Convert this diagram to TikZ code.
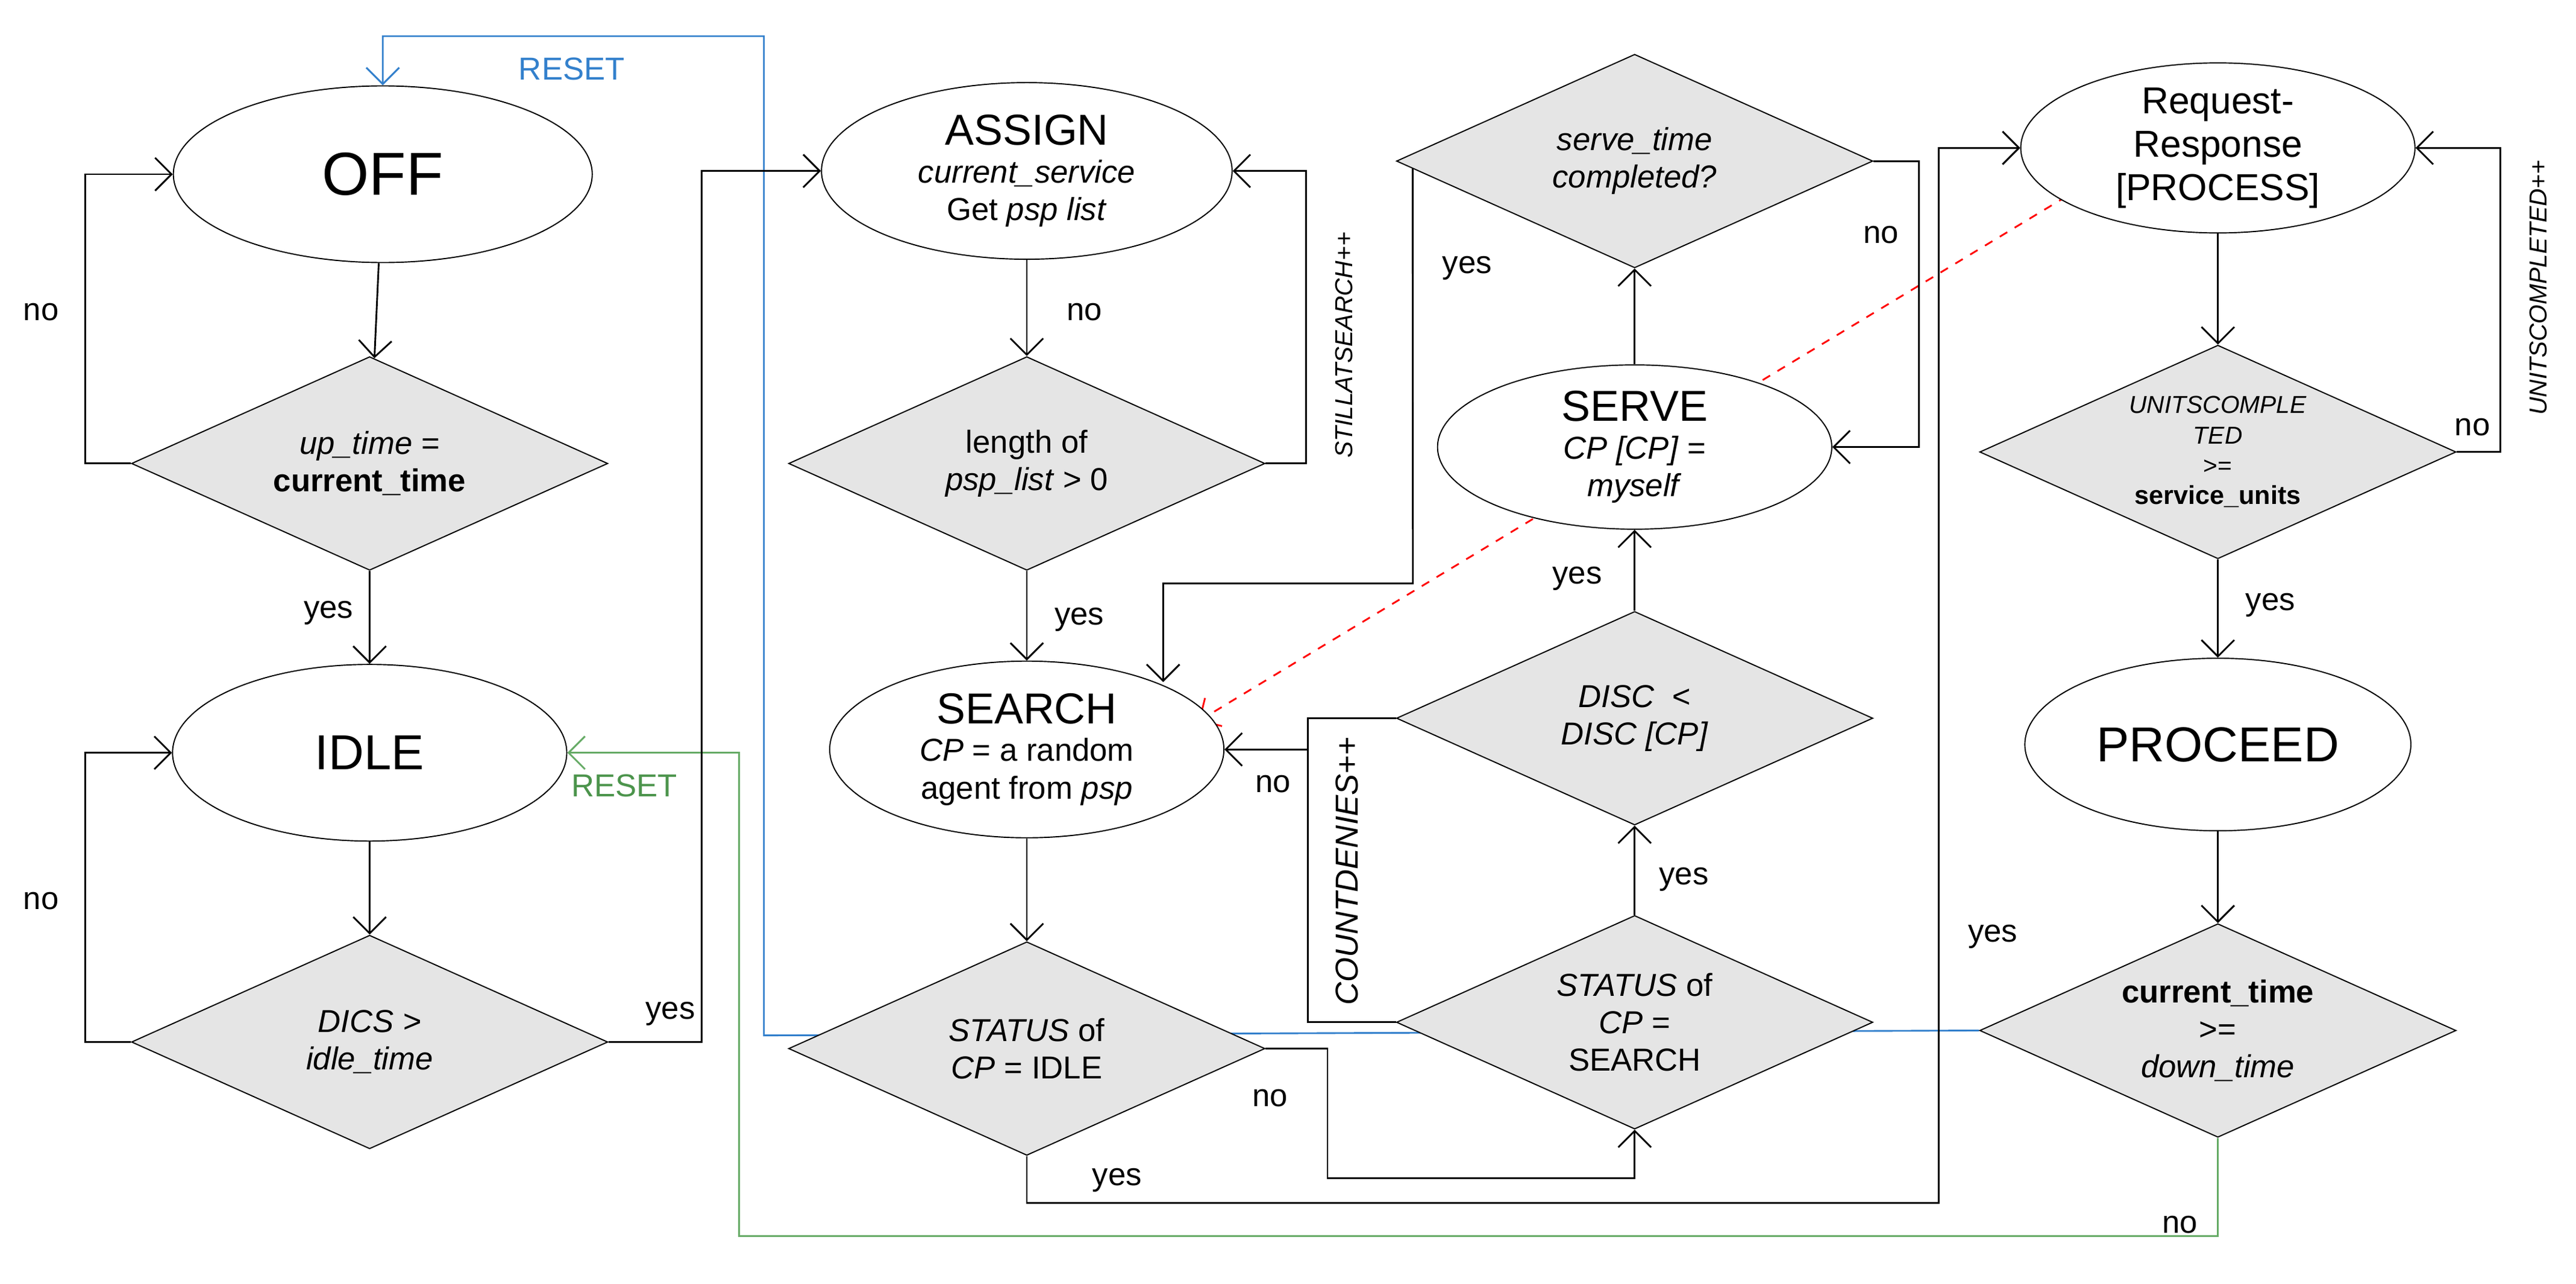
\documentclass[tikz,border=0pt]{standalone}
\usepackage{fontspec}
\setmainfont{Liberation Sans}
\usetikzlibrary{shapes.geometric, arrows.meta, backgrounds, calc}
\tikzstyle{state} = [ellipse, draw=black, fill=white, minimum width=4.8cm, minimum height=2.15cm, align=center, inner sep=0pt, font=\fontsize{11}{13}\selectfont]
\tikzstyle{decision} = [diamond, draw=black, fill=black!10, minimum width=5.8cm, minimum height=2.6cm, aspect=2.2, inner sep=0pt, align=center, font=\fontsize{11}{13}\selectfont]
\tikzstyle{arrow} = [semithick, -{Straight Barb[length=2mm]}]
\tikzstyle{lbl} = [font=\fontsize{11}{13}\selectfont]
\tikzstyle{rlbl} = [rotate=90, font=\fontsize{8.5}{10}\selectfont\itshape]

\begin{document}
\begin{tikzpicture}[x=0.02cm, y=-0.02cm]
    \useasboundingbox (0,0) rectangle (1568,781);

    \node (off) [state, minimum width=5.1cm, font=\fontsize{21}{24}\selectfont] at (233,106) {OFF};
    \node (d1) [decision] at (225,282) {\textit{up\_time} =\\\textbf{current\_time}};
    \node (idle) [state, font=\fontsize{17}{20}\selectfont] at (225,458) {IDLE};
    \node (d2) [decision] at (225,634) {\textit{DICS >}\\\textit{idle\_time}};

    \node (assign) [state, minimum width=5cm] at (625,104) {{\fontsize{15}{17}\selectfont ASSIGN}\\\textit{current\_service}\\Get \textit{psp list}};
    \node (d3) [decision] at (625,282) {length of\\\textit{psp\_list} > 0};
    \node (search) [state] at (625,456) {{\fontsize{15}{17}\selectfont SEARCH}\\\textit{CP} = a random\\agent from \textit{psp}};
    \node (d4) [decision] at (625,638) {\textit{STATUS} of\\\textit{CP} = IDLE};

    \node (d5) [decision] at (995,98) {\textit{serve\_time}\\\textit{completed?}};
    \node (serve) [state, minimum height=2cm] at (995,272) {{\fontsize{15}{17}\selectfont SERVE}\\\textit{CP [CP]} =\\\textit{myself}};
    \node (d6) [decision] at (995,437) {\textit{DISC \ <}\\\textit{DISC [CP]}};
    \node (d7) [decision] at (995,622) {\textit{STATUS} of\\\textit{CP} =\\SEARCH};

    \node (rr) [state, minimum height=2cm, font=\fontsize{13}{15}\selectfont] at (1350,90) {Request-\\Response\\{[PROCESS]}};
    \node (d8) [decision, font=\fontsize{8.5}{10.5}\selectfont] at (1350,275) {\textit{UNITSCOMPLE}\\\textit{TED}\\>=\\{\fontsize{9}{11}\selectfont\bfseries service\_units}};
    \node (proceed) [state, minimum width=4.7cm, minimum height=2.1cm, font=\fontsize{17}{20}\selectfont] at (1350,453) {PROCEED};
    \node (d9) [decision] at (1350,627) {\textbf{current\_time}\\>=\\\textit{down\_time}};

    \begin{scope}[on background layer]
        \draw [arrow, color=blue!50!cyan!60!gray] (d9.west) -- (465,630) -- (465,22) -| (off.north);
        \draw [arrow, color=green!45!black!60] (d9.south) |- (450,752) |- (idle.east);
        \draw [arrow, red, dashed] ($(rr.south west)!0.2!(rr.west)$) -- ($(search.east)!0.45!(search.north east)$);
    \end{scope}
    \node [lbl, color=blue!50!cyan!60!gray] at (348,42) {RESET};
    \node [lbl, color=green!40!black!70] at (380,478) {RESET};

    \draw [arrow] (off) -- (d1);
    \draw [arrow] (d1.west) -- (52,282) |- (off.west);
    \node [lbl] at (25,190) {no};
    \draw [arrow] (d1) -- (idle);
    \node [lbl] at (200,373) {yes};
    \draw [arrow] (idle) -- (d2);
    \draw [arrow] (d2.west) -- (52,634) |- (idle.west);
    \node [lbl] at (25,548) {no};
    \draw [arrow] (d2.east) -- (427,634) |- (assign.west);
    \node [lbl] at (408,617) {yes};

    \draw [arrow] (assign) -- (d3);
    \draw [arrow] (d3.east) -- (795,282) |- (assign.east);
    \node [lbl] at (660,190) {no};
    \node [rlbl] at (818,210) {STILLATSEARCH++};
    \draw [arrow] (d3) -- (search);
    \node [lbl] at (657,377) {yes};
    \draw [arrow] (search) -- (d4);
    \draw [arrow] (d4.south) -- (625,732) -- (1180,732) |- (rr.west);
    \node [lbl] at (680,718) {yes};
    \draw [arrow] (d4.east) -- (808,638) |- (995,717) -- (d7.south);
    \node [lbl] at (773,668) {no};

    \draw [arrow] (d7) -- (d6);
    \node [lbl] at (1025,535) {yes};
    \draw [semithick] (d7.west) -| (796,437);
    \draw [arrow] (d6.west) -- (796,437) |- (search.east);
    \node [lbl] at (775,477) {no};
    \node [rlbl, font=\fontsize{11}{13}\selectfont\itshape] at (820,530) {COUNTDENIES++};
    \draw [arrow] (d6) -- (serve);
    \node [lbl] at (960,352) {yes};
    \draw [arrow] (serve) -- (d5);
    \draw [arrow] (d5.east) -- (1168,98) |- (serve.east);
    \node [lbl] at (1145,143) {no};
    \draw [arrow] ($(d5.west)!0.07!(d5.south)$) -- (860,355) -- (708,355) -- (708,415);
    \node [lbl] at (893,163) {yes};

    \draw [arrow] (rr) -- (d8);
    \draw [arrow] (d8.east) -- (1522,275) |- (rr.east);
    \node [lbl] at (1505,260) {no};
    \node [rlbl] at (1545,175) {UNITSCOMPLETED++};
    \draw [arrow] (d8) -- (proceed);
    \node [lbl] at (1382,368) {yes};
    \draw [arrow] (proceed) -- (d9);
    \node [lbl] at (1213,570) {yes};
    \node [lbl] at (1327,745) {no};
\end{tikzpicture}
\end{document}
